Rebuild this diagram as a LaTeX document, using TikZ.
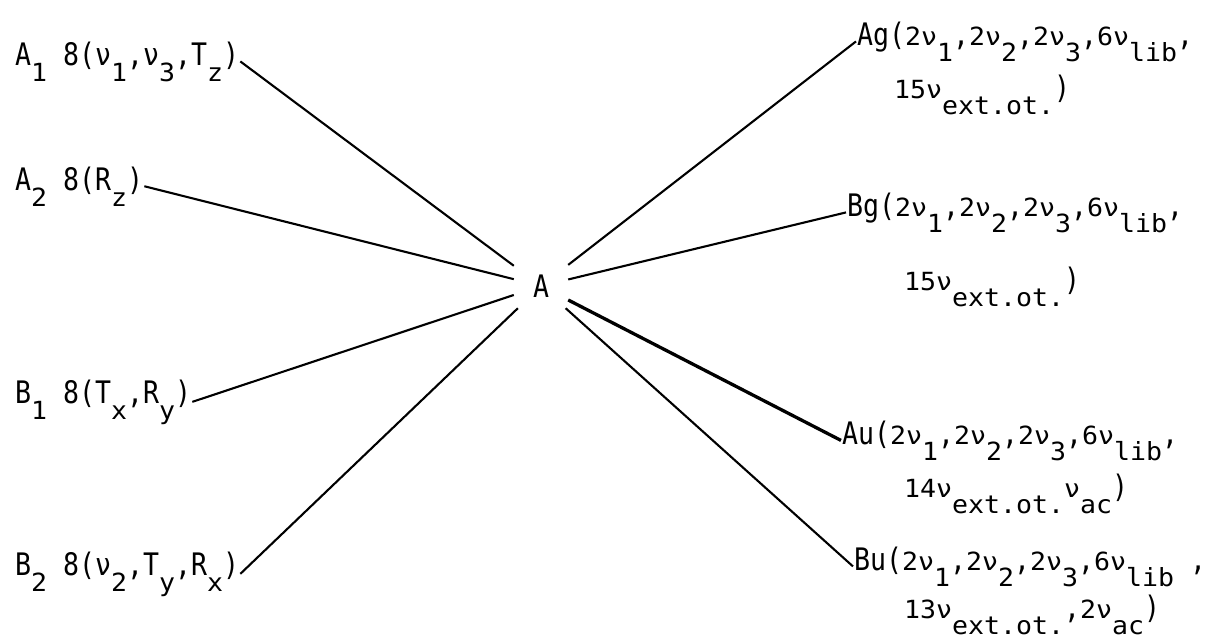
\documentclass[tikz,border=0pt]{standalone}
\usepackage{fontspec}
\setmainfont{DejaVu Sans Mono}[FakeStretch=0.857]
\newfontfamily\smallf{DejaVu Sans Mono}[FakeStretch=1.063]
\newcommand\lo[1]{\raisebox{-16pt}{\smallf\fontsize{25}{25}\selectfont #1}}
\newcommand\sm[1]{{\smallf\fontsize{25}{25}\selectfont #1}}
\begin{document}
\begin{tikzpicture}[x=1pt,y=-1pt,
  lbl/.style={inner sep=1pt, anchor=base west, font=\fontsize{31}{31}\selectfont},
  ctr/.style={inner sep=0pt, minimum width=54pt, minimum height=44pt, font=\fontsize{31}{31}\selectfont},
  conn/.style={line width=2.1pt},
  heavy/.style={line width=3.3pt}]
\useasboundingbox (0,0) rectangle (1212,638);
% centre
\node[ctr] (A) at (541,286) {A};
% left labels
\node[lbl] (a1) at (14,65) {A\lo{1} 8(ν\lo{1},ν\lo{3},T\lo{z})};
\node[lbl] (a2) at (14,190) {A\lo{2} 8(R\lo{z})};
\node[lbl] (b1) at (14,403) {B\lo{1} 8(T\lo{x},R\lo{y})};
\node[lbl] (b2) at (14,575) {B\lo{2} 8(ν\lo{2},T\lo{y},R\lo{x})};
% right labels
\node[lbl] (ag) at (856,45) {Ag(\sm{2ν}\lo{1},\sm{2ν}\lo{2},\sm{2ν}\lo{3},\sm{6ν}\lo{lib},};
\node[lbl] (ag2) at (893,98) {\sm{15ν}\lo{ext.ot.})};
\node[lbl] (bg) at (846,216) {Bg(\sm{2ν}\lo{1},\sm{2ν}\lo{2},\sm{2ν}\lo{3},\sm{6ν}\lo{lib},};
\node[lbl] (bg2) at (903,290) {\sm{15ν}\lo{ext.ot.})};
\node[lbl] (au) at (841,444) {Au(\sm{2ν}\lo{1},\sm{2ν}\lo{2},\sm{2ν}\lo{3},\sm{6ν}\lo{lib},};
\node[lbl] (au2) at (903,497) {\sm{14ν}\lo{ext.ot.}\sm{ν}\lo{ac})};
\node[lbl] (bu) at (853,570) {Bu(\sm{2ν}\lo{1},\sm{2ν}\lo{2},\sm{2ν}\lo{3},\sm{6ν}\lo{lib} ,};
\node[lbl] (bu2) at (903,618) {\sm{13ν}\lo{ext.ot.},\sm{2ν}\lo{ac})};
% connectors
\draw[conn] (a1.east) -- (A);
\draw[conn] (a2.east) -- (A);
\draw[conn] (b1.east) -- (A);
\draw[conn] (b2.east) -- (A);
\draw[conn] (ag.west) -- (A);
\draw[conn] (bg.west) -- (A);
\draw[heavy] (au.west) -- (A);
\draw[conn] (bu.west) -- (A);
\end{tikzpicture}
\end{document}
